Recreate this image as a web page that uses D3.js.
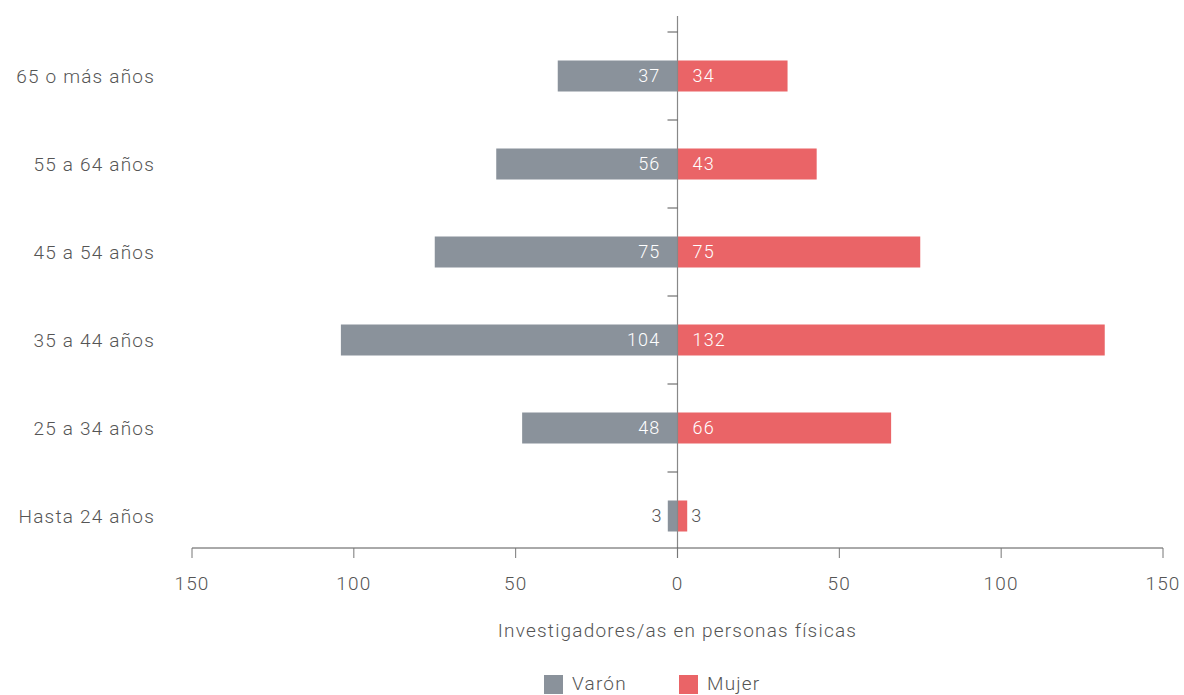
<!DOCTYPE html>
<html><head><meta charset="utf-8">
<script src="https://cdn.jsdelivr.net/npm/d3@7"></script>
<style>body{margin:0;background:#fff}svg{display:block}text{font-family:Roboto,"Noto Sans",sans-serif;font-weight:300;letter-spacing:1.2px}</style>
</head><body><svg id="c" width="1184" height="695"></svg>
<script>
const categories = ["65 o más años","55 a 64 años","45 a 54 años","35 a 44 años","25 a 34 años","Hasta 24 años"];
const varon = [37,56,75,104,48,3];
const mujer = [34,43,75,132,66,3];
const ticks = [150,100,50,0,50,100,150];
const seriesNames = ["Varón","Mujer"];
const colors = ["#8a929b","#ea6467"];
const axisTitle = "Investigadores/as en personas físicas";

const svg = d3.select("#c");
const x = d3.scaleLinear().domain([-150,150]).range([192,1163]);
const y = d3.scaleBand().domain(categories).range([32,560]);
const barH = 31;
const textC = "#555";

categories.forEach((c,i)=>{
  const cy = y(c)+y.bandwidth()/2;
  svg.append("rect").attr("x",x(-varon[i])).attr("y",cy-barH/2).attr("width",x(0)-x(-varon[i])).attr("height",barH).attr("fill",colors[0]);
  svg.append("rect").attr("x",x(0)).attr("y",cy-barH/2).attr("width",x(mujer[i])-x(0)).attr("height",barH).attr("fill",colors[1]);
  const inV = (x(0)-x(-varon[i]))>40;
  svg.append("text").attr("x",inV? x(0)-17 : x(-varon[i])-5).attr("y",cy).attr("dy","0.35em")
    .attr("text-anchor","end").attr("font-size",18).attr("fill",inV?"#fff":textC).text(varon[i]);
  const inM = (x(mujer[i])-x(0))>40;
  svg.append("text").attr("x",inM? x(0)+15 : x(mujer[i])+4).attr("y",cy).attr("dy","0.35em")
    .attr("text-anchor","start").attr("font-size",18).attr("fill",inM?"#fff":textC).text(mujer[i]);
  svg.append("text").attr("x",155).attr("y",cy).attr("dy","0.35em").attr("text-anchor","end")
    .attr("font-size",19).attr("fill",textC).text(c);
});

svg.append("line").attr("x1",x(0)).attr("x2",x(0)).attr("y1",16).attr("y2",558).attr("stroke","#888").attr("stroke-width",1.2);
categories.forEach(c=>{
  svg.append("line").attr("x1",x(0)-10).attr("x2",x(0)).attr("y1",y(c)).attr("y2",y(c)).attr("stroke","#555").attr("stroke-width",1);
});

const tv = [-150,-100,-50,0,50,100,150];
svg.append("line").attr("x1",x(-150)).attr("x2",x(150)).attr("y1",548).attr("y2",548).attr("stroke","#555").attr("stroke-width",1);
tv.forEach((v,i)=>{
  svg.append("line").attr("x1",x(v)).attr("x2",x(v)).attr("y1",548).attr("y2",558).attr("stroke","#777").attr("stroke-width",1);
  svg.append("text").attr("x",x(v)).attr("y",583).attr("dy","0.35em").attr("text-anchor","middle")
    .attr("font-size",19).attr("fill",textC).text(ticks[i]);
});
svg.append("text").attr("x",x(0)).attr("y",630).attr("dy","0.35em").attr("text-anchor","middle")
  .attr("font-size",19).attr("fill",textC).text(axisTitle);

const lx = [544,679];
seriesNames.forEach((s,i)=>{
  svg.append("rect").attr("x",lx[i]).attr("y",675).attr("width",19).attr("height",19).attr("fill",colors[i]);
  svg.append("text").attr("x",lx[i]+28).attr("y",683).attr("dy","0.35em").attr("font-size",19).attr("fill",textC).text(s);
});
</script></body></html>
